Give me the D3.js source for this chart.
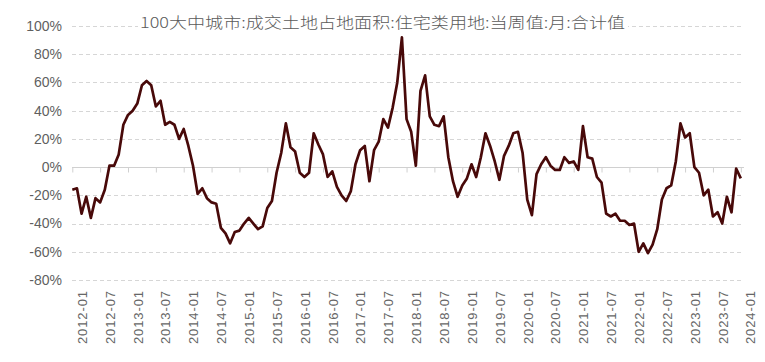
<!DOCTYPE html>
<html>
<head>
<meta charset="utf-8">
<script src="https://cdn.jsdelivr.net/npm/d3@7"></script>
<style>
  html, body { margin: 0; padding: 0; background: #fff; }
  svg { display: block; }
</style>
</head>
<body>
<div id="chart"></div>
<script>
// Chart title
const title = '100大中城市:成交土地占地面积:住宅类用地:当周值:月:合计值';

// Monthly values (%), 2012-01 .. 2024-01
const months = d3.range(145).map(i => {
  const y = 2012 + Math.floor(i / 12);
  const m = (i % 12) + 1;
  return `${y}-${String(m).padStart(2, '0')}`;
});
const values = [
  -16, -15, -33, -21, -36, -22, -25, -16, 1, 1, 9, 30,        // 2012
  37, 40, 45, 58, 61, 58, 43, 47, 30, 32, 30, 20,             // 2013
  27, 15, 1, -19, -15, -22, -25, -26, -43, -47, -54, -46,     // 2014
  -45, -40, -36, -40, -44, -42, -29, -24, -4, 10, 31, 14,     // 2015
  11, -4, -7, -4, 24, 16, 9, -7, -3, -14, -20, -24,           // 2016
  -17, 2, 12, 15, -10, 12, 18, 34, 28, 42, 60, 92,            // 2017
  34, 25, 1, 54, 65, 36, 30, 29, 36, 7, -10, -21,             // 2018
  -13, -8, 2, -7, 7, 24, 15, 4, -9, 8, 15, 24,                // 2019
  25, 10, -23, -34, -5, 2, 7, 1, -2, -2, 7, 3,                // 2020
  4, -2, 29, 7, 6, -7, -11, -33, -35, -33, -38, -38,          // 2021
  -41, -40, -60, -54, -61, -55, -44, -23, -15, -13, 4, 31,    // 2022
  21, 24, 0, -4, -20, -16, -35, -32, -40, -21, -32, -1,       // 2023
  -8                                                          // 2024
];

// Axis ticks
const yTicks = [100, 80, 60, 40, 20, 0, -20, -40, -60, -80];
const xTickLabels = months.filter((d, i) => i % 6 === 0);

const width = 765, height = 362;

const svg = d3.select('#chart').append('svg')
  .attr('width', width)
  .attr('height', height);

const x = d3.scalePoint()
  .domain(months)
  .range([72.3, 740.8]);

const y = d3.scaleLinear()
  .domain([-80, 100])
  .range([280, 26]);

// gridlines
svg.append('g')
  .selectAll('line')
  .data(yTicks.filter(d => d !== 0))
  .join('line')
  .attr('x1', 72)
  .attr('x2', 744)
  .attr('y1', d => Math.round(y(d)) + 0.5)
  .attr('y2', d => Math.round(y(d)) + 0.5)
  .attr('stroke', '#d6d6d6')
  .attr('stroke-width', 1)
  .attr('stroke-dasharray', '4,3');

// y labels
svg.append('g')
  .selectAll('text')
  .data(yTicks)
  .join('text')
  .attr('x', 62)
  .attr('y', d => y(d))
  .attr('dy', '0.35em')
  .attr('text-anchor', 'end')
  .attr('fill', '#5f5f5f')
  .style('font-family', '"Liberation Sans", Arial, sans-serif')
  .style('font-size', '14px')
  .text(d => d + '%');

// zero axis with ticks
const zeroY = Math.round(y(0)) + 0.5;
const xAxis = d3.axisBottom(x)
  .tickValues(xTickLabels)
  .tickSize(5)
  .tickFormat('');
const axisG = svg.append('g')
  .attr('transform', `translate(0,${zeroY})`)
  .call(xAxis);
axisG.select('.domain').attr('d', `M72,0H744`).attr('stroke', '#d0d0d0');
axisG.selectAll('.tick line').attr('stroke', '#d0d0d0');

// x labels
svg.append('g')
  .selectAll('text')
  .data(xTickLabels)
  .join('text')
  .attr('transform', d => `translate(${x(d) + 10},290) rotate(-90)`)
  .attr('dy', '0.35em')
  .attr('text-anchor', 'end')
  .attr('fill', '#666')
  .style('font-family', '"Liberation Sans", Arial, sans-serif')
  .style('font-size', '13px')
  .style('letter-spacing', '0.9px')
  .text(d => d);

// line
const line = d3.line()
  .x((d, i) => x(months[i]))
  .y(d => y(d));

svg.append('path')
  .datum(values)
  .attr('d', line)
  .attr('fill', 'none')
  .attr('stroke', '#480909')
  .attr('stroke-width', 2.7)
  .attr('stroke-linejoin', 'round');

// title with white backing
const titleG = svg.append('g');
titleG.append('rect')
  .attr('x', 138).attr('y', 14).attr('width', 490).attr('height', 18)
  .attr('fill', '#fff');
titleG.append('text')
  .attr('x', 382.5)
  .attr('y', 28)
  .attr('text-anchor', 'middle')
  .attr('fill', '#5a5a5a')
  .attr('textLength', 485)
  .attr('lengthAdjust', 'spacingAndGlyphs')
  .style('font-family', '"Noto Sans CJK SC", sans-serif')
  .style('font-size', '15px')
  .style('font-weight', 300)
  .text(title);
</script>
</body>
</html>
